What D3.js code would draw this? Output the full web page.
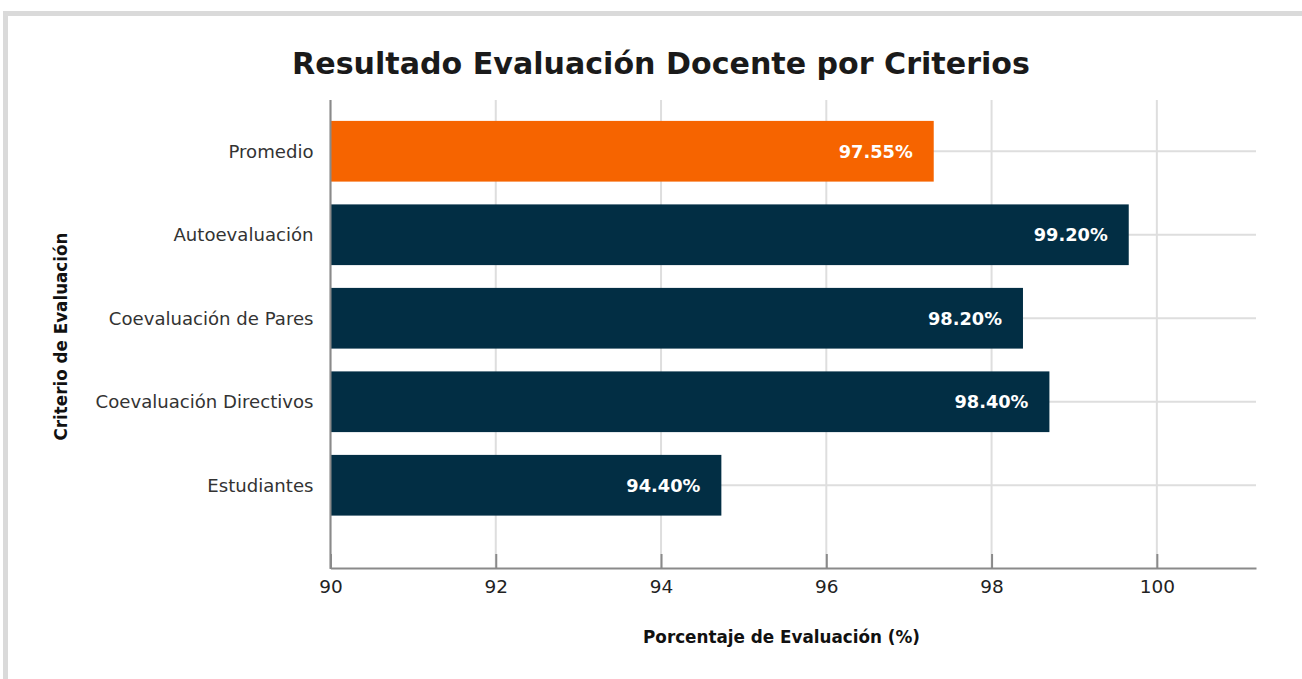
<!DOCTYPE html>
<html>
<head>
<meta charset="utf-8">
<script src="https://cdn.jsdelivr.net/npm/d3@7"></script>
<style>
  html, body { margin: 0; padding: 0; background: #ffffff; }
  svg { display: block; }
  text { font-family: "DejaVu Sans", "Noto Sans", sans-serif; }
</style>
</head>
<body>
<svg id="chart" width="1302" height="679"></svg>
<script>
// ---- data ----
const categories = ["Promedio", "Autoevaluación", "Coevaluación de Pares", "Coevaluación Directivos", "Estudiantes"];
const barValues = [97.30, 99.66, 98.38, 98.70, 94.73];      // bar lengths as drawn
const labelValues = [97.55, 99.20, 98.20, 98.40, 94.40];    // printed labels
const tickValues = [90, 92, 94, 96, 98, 100];
const barColors = ["#F66400", "#022E44", "#022E44", "#022E44", "#022E44"];
const titleText = "Resultado Evaluación Docente por Criterios";
const xTitleText = "Porcentaje de Evaluación (%)";
const yTitleText = "Criterio de Evaluación";

// ---- layout ----
const W = 1302, H = 679;
const plot = { left: 330.5, right: 1256, top: 100, bottom: 568 };

const svg = d3.select("#chart");

// card frame
svg.append("rect")
  .attr("x", 5.5).attr("y", 13.5)
  .attr("width", W + 20).attr("height", H + 20)
  .attr("fill", "#ffffff")
  .attr("stroke", "#dadada").attr("stroke-width", 5);

const x = d3.scaleLinear().domain([90, 101.2]).range([plot.left, plot.right]);
const y = d3.scaleBand().domain(categories).range([109.5, 527])
  .paddingInner(0.273).paddingOuter(0.1365);

function fit(sel, targetW) {
  const node = sel.node();
  const fs = parseFloat(sel.attr("font-size"));
  const w = node.getComputedTextLength();
  sel.attr("font-size", (fs * targetW / w).toFixed(2));
}

// vertical gridlines
svg.append("g").selectAll("line").data(tickValues).join("line")
  .attr("x1", d => x(d)).attr("x2", d => x(d))
  .attr("y1", plot.top).attr("y2", plot.bottom)
  .attr("stroke", "#dedede").attr("stroke-width", 2);

// horizontal gridlines at category centers
svg.append("g").selectAll("line").data(categories).join("line")
  .attr("x1", plot.left).attr("x2", plot.right)
  .attr("y1", d => y(d) + y.bandwidth() / 2).attr("y2", d => y(d) + y.bandwidth() / 2)
  .attr("stroke", "#dedede").attr("stroke-width", 2);

// bars
svg.append("g").selectAll("rect").data(categories).join("rect")
  .attr("x", x(90))
  .attr("y", d => y(d))
  .attr("width", (d, i) => x(barValues[i]) - x(90))
  .attr("height", y.bandwidth())
  .attr("fill", (d, i) => barColors[i]);

// x axis
const xAxis = d3.axisBottom(x).tickValues(tickValues).tickSizeInner(-14).tickSizeOuter(0).tickPadding(0).tickFormat(d3.format("d"));
const gx = svg.append("g").attr("transform", `translate(0,${plot.bottom})`).call(xAxis);
gx.attr("font-family", null).attr("font-size", null);
gx.select(".domain").attr("stroke", "#8a8a8a").attr("stroke-width", 2);
gx.selectAll(".tick line").attr("stroke", "#8a8a8a").attr("stroke-width", 2);
const tickTexts = gx.selectAll(".tick text")
  .attr("y", 24.5).attr("dy", null)
  .attr("fill", "#222").attr("font-size", 16)
  .style("font-family", "DejaVu Sans, sans-serif");
{
  const w = tickTexts.filter(d => d === 90).node().getComputedTextLength();
  tickTexts.attr("font-size", (16 * 23.5 / w).toFixed(2));
}

// left axis line
svg.append("line")
  .attr("x1", plot.left).attr("x2", plot.left)
  .attr("y1", plot.top).attr("y2", plot.bottom + 1)
  .attr("stroke", "#8a8a8a").attr("stroke-width", 2);

// category labels
const cl = svg.append("g").selectAll("text").data(categories).join("text")
  .attr("x", 313.5)
  .attr("y", d => y(d) + y.bandwidth() / 2)
  .attr("dy", "0.36em")
  .attr("text-anchor", "end")
  .attr("fill", "#333")
  .attr("font-size", 17)
  .text(d => d);
{
  const longest = cl.filter(d => d === "Coevaluación Directivos");
  const w = longest.node().getComputedTextLength();
  cl.attr("font-size", (17 * 218 / w).toFixed(2));
}

// bar value labels
const vl = svg.append("g").selectAll("text").data(categories).join("text")
  .attr("x", (d, i) => x(barValues[i]) - 21)
  .attr("y", d => y(d) + y.bandwidth() / 2)
  .attr("dy", "0.36em")
  .attr("text-anchor", "end")
  .attr("fill", "#ffffff")
  .attr("font-weight", "bold")
  .attr("font-size", 17)
  .text((d, i) => labelValues[i].toFixed(2) + "%");
{
  const w = vl.filter(d => d === "Autoevaluación").node().getComputedTextLength();
  vl.attr("font-size", (17 * 74 / w).toFixed(2));
}

// title
const t = svg.append("text")
  .attr("x", 661).attr("y", 74)
  .attr("text-anchor", "middle")
  .attr("font-weight", "bold")
  .attr("font-size", 32)
  .attr("fill", "#1a1a1a")
  .text(titleText);
fit(t, 738);

// x axis title
const xt = svg.append("text")
  .attr("x", 781.5).attr("y", 643)
  .attr("text-anchor", "middle")
  .attr("font-weight", "bold")
  .attr("font-size", 16)
  .attr("fill", "#111")
  .text(xTitleText);
fit(xt, 277);

// y axis title
const yt = svg.append("text")
  .attr("transform", "translate(67,336.5) rotate(-90)")
  .attr("text-anchor", "middle")
  .attr("font-weight", "bold")
  .attr("font-size", 16)
  .attr("fill", "#111")
  .text(yTitleText);
fit(yt, 208);
</script>
</body>
</html>
